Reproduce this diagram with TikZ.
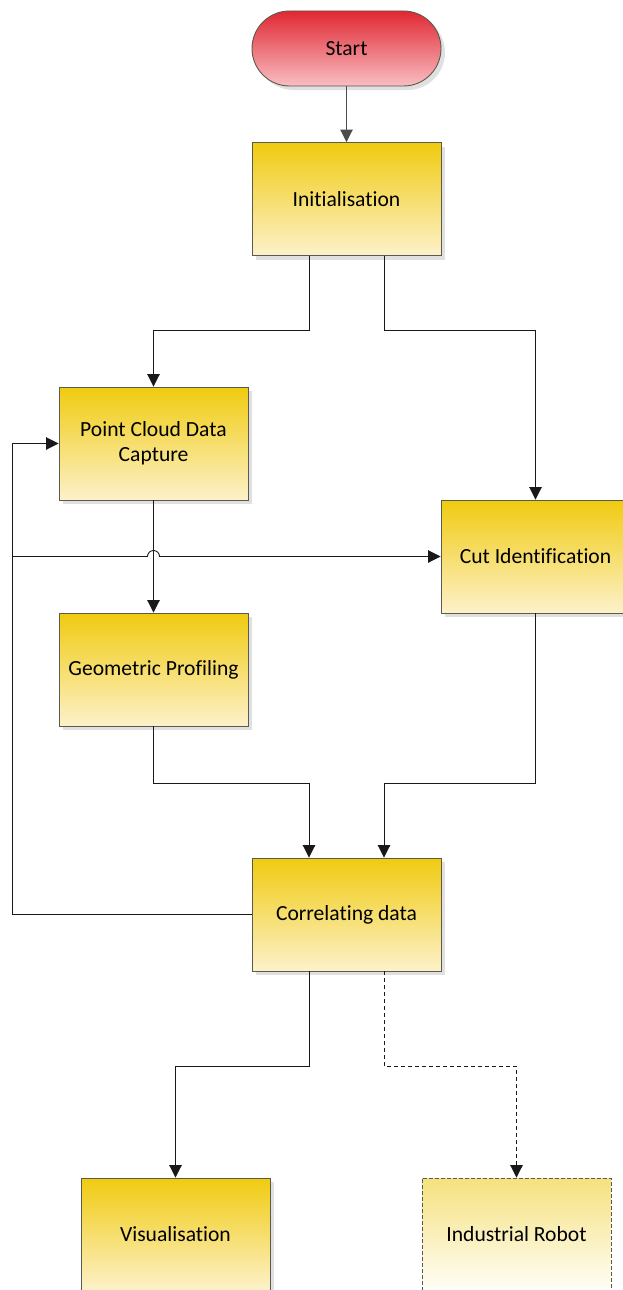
\documentclass[tikz,border=0pt]{standalone}
\usepackage{fontspec}
\setmainfont{Carlito}[Ligatures=NoCommon]
\usetikzlibrary{arrows.meta,shadows}
\definecolor{ytop}{HTML}{F0CB10}
\definecolor{ybot}{HTML}{FDF1CA}
\definecolor{ltop}{HTML}{F5E17E}
\definecolor{lbot}{HTML}{FFFEF8}
\definecolor{rtop}{HTML}{E02833}
\definecolor{rbot}{HTML}{F9BEC2}
\definecolor{edgec}{HTML}{5A5A4E}
\begin{document}
\begin{tikzpicture}[x=1pt,y=-1pt,
  base/.style={line width=0.9pt, minimum width=189pt, minimum height=113pt, inner sep=0pt, align=center, font=\fontsize{21.6}{25}\selectfont},
  shad/.style={drop shadow={shadow xshift=4pt, shadow yshift=-4pt, fill=black!12, opacity=1}},
  box/.style={base, shad, draw=edgec, top color=ytop, bottom color=ybot},
  robotbox/.style={base, draw=edgec, dashed, dash pattern=on 4pt off 2pt, top color=ltop, bottom color=lbot},
  startbox/.style={base, shad, draw=edgec, minimum height=75pt, rounded corners=37.5pt, top color=rtop, bottom color=rbot},
  arr/.style={draw=black!90, line width=0.9pt, -{Triangle[length=12.5pt,width=12.5pt]}},
  dasharr/.style={arr, dash pattern=on 4pt off 3pt}
]
\useasboundingbox (0,0) rectangle (623,1290);
\clip (0,0) rectangle (623,1290);
\fill[white] (0,0) rectangle (623,1290);

\node[startbox] (start) at (346.5,48.5) {Start};
\node[box] (init) at (346.5,199) {Initialisation};
\node[box] (pc) at (153.5,443.5) {Point Cloud Data\\Capture};
\node[box] (cut) at (535.5,556.5) {Cut Identification};
\node[box] (geo) at (153.5,669.5) {Geometric Profiling};
\node[box] (corr) at (346.5,914.5) {Correlating data};
\node[box] (vis) at (175.5,1234.5) {Visualisation};
\node[robotbox] (robot) at (516.5,1234.5) {Industrial Robot};
\coordinate (lx) at (12,0);

\draw[arr, draw=black!70] (start) -- (init);
\draw[arr] ([xshift=-37.5pt]init.south) -- ++(0,74) -| (pc.north);
\draw[arr] ([xshift=37.5pt]init.south) -- ++(0,74) -| (cut.north);
\draw[arr] (pc) -- (geo);
\draw[arr] (corr.west) -- (corr.west -| lx) -- (lx |- pc.west) -- (pc.west);
\draw[arr] (lx |- cut.west) -- ([xshift=-6pt]pc.south |- cut.west) arc[start angle=180, end angle=0, radius=6pt] -- (cut.west);
\draw[arr] (geo.south) -- ++(0,57) -| ([xshift=-37.5pt]corr.north);
\draw[arr] (cut.south) -- ++(0,170) -| ([xshift=37.5pt]corr.north);
\draw[arr] ([xshift=-37.5pt]corr.south) -- ++(0,95) -| (vis.north);
\draw[dasharr] ([xshift=37.5pt]corr.south) -- ++(0,95) -| (robot.north);
\end{tikzpicture}
\end{document}
